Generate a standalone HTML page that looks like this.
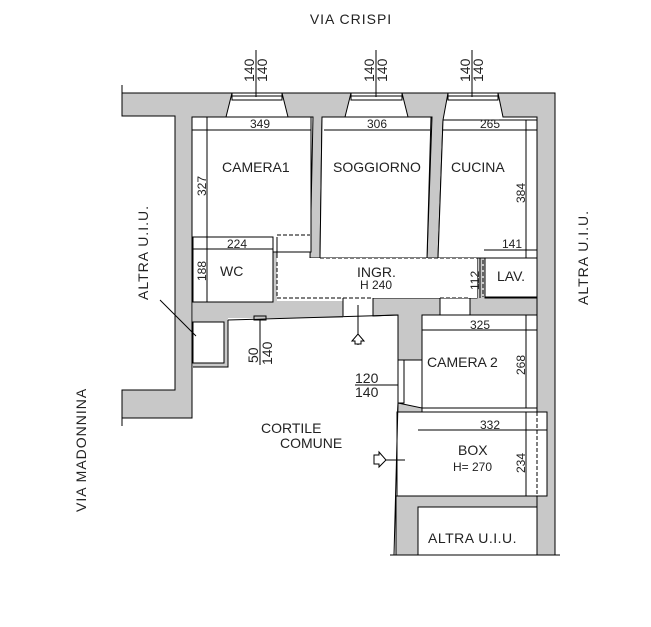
<!DOCTYPE html>
<html><head><meta charset="utf-8"><style>
html,body{margin:0;padding:0;background:#fff;}
svg{display:block;}
text{font-family:"Liberation Sans",sans-serif;fill:#222;}
</style></head><body>
<svg width="651" height="627" viewBox="0 0 651 627" xmlns="http://www.w3.org/2000/svg">
<g fill="#c8c8c8" stroke="#000" stroke-width="1">
<path d="M122,93 H232 L226,117 H192 V418 H122 V390 H175 V116 H122 Z"/>
<rect x="193" y="301" width="150" height="17" stroke="none"/>
<rect x="193" y="316" width="35" height="51" stroke="none"/>
<rect x="273" y="237" width="4" height="64" stroke="none"/>
<polygon points="282,93 351,93 345,117 322,117 320,258 310,258 313,117 288,117"/>
<polygon points="402,93 448,93 443,120 438,258 427,258 432,117 408,117"/>
<polygon points="498,93 555,93 555,555 537,555 537,117 503,117"/>
<polygon points="373,298 477,298 477,258 485,258 485,298 537,298 537,315 470,315 470,298 440,298 440,315 422,315 422,360 398,360 398,315 373,316"/>
<polygon points="398,403 422,408 422,412 418,412 418,428 397,428"/>
<path d="M396,496 H537 V507 H418 V555 H396 Z"/>
</g>
<g fill="#fff" stroke="#000" stroke-width="1">
<rect x="192" y="117" width="119" height="135"/>
<polygon points="322,117 431,117 427,258 320,258"/>
<polygon points="443,120 537,120 537,258 438,258"/>
<rect x="193" y="237" width="80" height="65"/>
<rect x="277" y="258" width="200" height="40" stroke="none"/>
<rect x="485" y="258" width="52" height="39"/>
<rect x="422" y="315" width="115" height="93"/>
<rect x="397" y="412" width="150" height="84"/>
<rect x="418" y="507" width="119" height="48"/>
<rect x="193" y="322" width="31" height="41"/>
</g>
<g stroke="#000" stroke-width="1" fill="none">
<polyline points="193,367 228,367 228,320"/>
<line x1="277" y1="237" x2="277" y2="258"/>
<line x1="343" y1="298" x2="343" y2="316"/>
<rect x="232" y="93" width="50" height="7"/><line x1="232" y1="96" x2="282" y2="96"/>
<rect x="351" y="93" width="51" height="7"/><line x1="351" y1="96" x2="402" y2="96"/>
<rect x="448" y="93" width="50" height="7"/><line x1="448" y1="96" x2="498" y2="96"/>
<line x1="256" y1="50" x2="256" y2="97"/><line x1="376" y1="50" x2="376" y2="97"/><line x1="472" y1="50" x2="472" y2="97"/>
<line x1="228" y1="320" x2="398" y2="315"/>
<polyline points="398,315 398,403 394,555"/>
<rect x="398" y="360" width="6" height="43"/>
<rect x="254" y="316" width="12" height="4"/>
<line x1="260" y1="320" x2="260" y2="365"/>
<line x1="355" y1="385" x2="398" y2="385"/>
<line x1="358" y1="305" x2="358" y2="345"/>
<line x1="385" y1="460" x2="405" y2="460"/>
<line x1="160" y1="300" x2="196" y2="336"/>
<line x1="122" y1="85" x2="122" y2="93"/>
<line x1="122" y1="418" x2="122" y2="426"/>
<line x1="390" y1="555" x2="400" y2="555"/><line x1="532" y1="555" x2="560" y2="555"/>
<line x1="192" y1="130" x2="311" y2="130"/>
<line x1="324" y1="130" x2="430" y2="130"/>
<line x1="443" y1="130" x2="537" y2="130"/>
<line x1="207" y1="117" x2="207" y2="252"/>
<line x1="526" y1="120" x2="526" y2="258"/>
<line x1="193" y1="249" x2="273" y2="249"/>
<line x1="207" y1="237" x2="207" y2="302"/>
<line x1="484" y1="250" x2="537" y2="250"/>
<line x1="480" y1="258" x2="480" y2="298"/>
<line x1="422" y1="330" x2="537" y2="330"/>
<line x1="526" y1="315" x2="526" y2="408"/>
<line x1="418" y1="430" x2="547" y2="430"/>
<line x1="526" y1="412" x2="526" y2="496"/>
<line x1="537" y1="412" x2="537" y2="496" stroke-dasharray="4,2"/>
<line x1="277" y1="235" x2="310" y2="235" stroke-dasharray="4,2"/>
<line x1="320" y1="258" x2="477" y2="258" stroke-dasharray="4,2"/>
<line x1="277" y1="298" x2="373" y2="298" stroke-dasharray="4,2"/>
<line x1="440" y1="298" x2="470" y2="298" stroke-dasharray="4,2"/>
<line x1="277" y1="262" x2="277" y2="298" stroke-dasharray="4,2"/>
<line x1="483" y1="260" x2="483" y2="297" stroke-dasharray="4,2"/>
<polygon points="352,341 358,334 364,341 361,341 361,344 355,344 355,341" fill="#fff"/>
<polygon points="374,455 379,455 379,452 386,460 379,467 379,464 374,464" fill="#fff"/>
</g>
<g font-size="14">
<text x="351" y="24" text-anchor="middle" letter-spacing="1">VIA  CRISPI</text>
<text x="222" y="172">CAMERA1</text>
<text x="333" y="172">SOGGIORNO</text>
<text x="451" y="172">CUCINA</text>
<text x="220" y="276">WC</text>
<text x="357" y="277">INGR.</text>
<text x="497" y="281">LAV.</text>
<text x="427" y="367">CAMERA  2</text>
<text x="261" y="433">CORTILE</text>
<text x="280" y="448">COMUNE</text>
<text x="458" y="455">BOX</text>
<text x="428" y="543" letter-spacing="0.5">ALTRA  U.I.U.</text>
<text transform="translate(148,300) rotate(-90)" letter-spacing="1">ALTRA  U.I.U.</text>
<text transform="translate(588,305) rotate(-90)" letter-spacing="1">ALTRA  U.I.U.</text>
<text transform="translate(86,512) rotate(-90)" letter-spacing="1">VIA  MADONNINA</text>
</g>
<g font-size="12">
<text x="360" y="289">H  240</text>
<text x="453" y="471">H=  270</text>
<text x="260" y="128" text-anchor="middle">349</text>
<text x="377" y="128" text-anchor="middle">306</text>
<text x="490" y="128" text-anchor="middle">265</text>
<text x="237" y="248" text-anchor="middle">224</text>
<text x="512" y="248" text-anchor="middle">141</text>
<text x="480" y="329" text-anchor="middle">325</text>
<text x="490" y="429" text-anchor="middle">332</text>
<text transform="translate(206,196) rotate(-90)">327</text>
<text transform="translate(525,203) rotate(-90)">384</text>
<text transform="translate(206,281) rotate(-90)">188</text>
<text transform="translate(479,290) rotate(-90)">112</text>
<text transform="translate(525,375) rotate(-90)">268</text>
<text transform="translate(525,473) rotate(-90)">234</text>
<g font-size="14">
<text transform="translate(254,82) rotate(-90)">140</text>
<text transform="translate(267,82) rotate(-90)">140</text>
<text transform="translate(374,82) rotate(-90)">140</text>
<text transform="translate(387,82) rotate(-90)">140</text>
<text transform="translate(470,82) rotate(-90)">140</text>
<text transform="translate(483,82) rotate(-90)">140</text>
<text transform="translate(258,363) rotate(-90)">50</text>
<text transform="translate(272,365) rotate(-90)">140</text>
<text x="355" y="383">120</text>
<text x="355" y="397">140</text>
</g>
</g>
</svg>
</body></html>
